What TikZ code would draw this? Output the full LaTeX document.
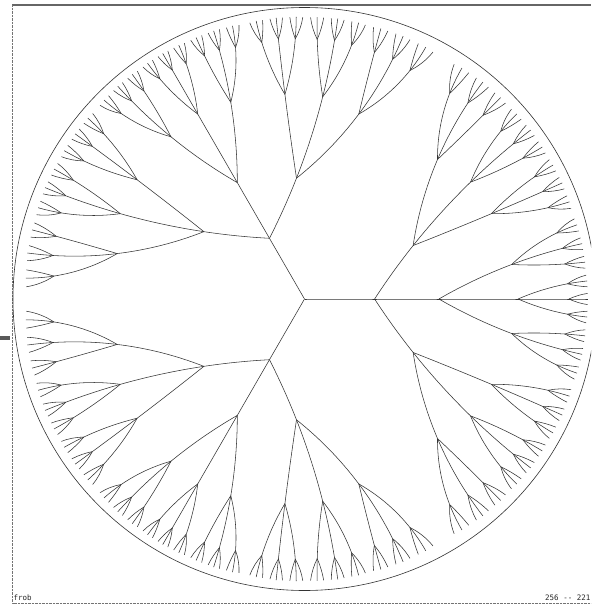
\documentclass[tikz,border=0pt]{standalone}
\usepackage{fontspec}
\setmonofont{DejaVu Sans Mono}
\tikzset{
  hedge/.style={draw=black!80, line width=0.55pt},
  rim/.style={draw=black!80, line width=0.6pt},
  frameline/.style={draw=black!55, line width=0.6pt, dash pattern=on 0.7pt off 0.7pt},
  lbl/.style={anchor=base west, inner sep=0pt, text=black!85, font=\ttfamily\fontsize{7.5}{8}\selectfont}
}
\ExplSyntaxOn
\fp_new:N \l_hyp_s_fp
\fp_new:N \l_hyp_psi_fp
\fp_new:N \l_hyp_wx_fp
\fp_new:N \l_hyp_wy_fp
\fp_new:N \l_hyp_dx_fp
\fp_new:N \l_hyp_dy_fp
\fp_new:N \l_hyp_nx_fp
\fp_new:N \l_hyp_ny_fp
\fp_new:N \l_hyp_dd_fp
\fp_new:N \l_hyp_qx_fp
\fp_new:N \l_hyp_qy_fp
\fp_new:N \l_hyp_del_fp
\fp_new:N \l_hyp_phi_fp
\fp_new:N \l_hyp_len_fp
\fp_new:N \l_hyp_k_fp
\fp_new:N \l_hyp_ax_fp
\fp_new:N \l_hyp_ay_fp
\fp_new:N \l_hyp_bx_fp
\fp_new:N \l_hyp_by_fp
\clist_const:Nn \c_hyp_s_clist {0.2405, 0.248, 0.41, 0.52, 0.56}
\clist_const:Nn \c_hyp_a_clist {120, 57, 30, 23.5, 25}
\fp_const:Nn \c_hyp_cx_fp {304.5}
\fp_const:Nn \c_hyp_cy_fp {299}
\fp_const:Nn \c_hyp_r_fp {291.5}
\int_const:Nn \c_hyp_depth_int {5}
\cs_new:Npn \hyp_px:N #1 { \fp_eval:n { round( \c_hyp_cx_fp + \c_hyp_r_fp * #1 , 3 ) } }
\cs_new:Npn \hyp_py:N #1 { \fp_eval:n { round( \c_hyp_cy_fp + \c_hyp_r_fp * #1 , 3 ) } }
\cs_new_protected:Npn \hyp_node:nnnnn #1#2#3#4#5
  {
    \int_compare:nNnT {#2} < {\c_hyp_depth_int}
      {
        \hyp_child:nnnnnnn {#1}{#2}{#3}{#4}{#5}{0}{1}
        \hyp_child:nnnnnnn {#1}{#2}{#3}{#4}{#5}{ \clist_item:Nn \c_hyp_a_clist {#2+1} }{2}
        \hyp_child:nnnnnnn {#1}{#2}{#3}{#4}{#5}{ -(\clist_item:Nn \c_hyp_a_clist {#2+1}) }{3}
      }
  }
\cs_new_protected:Npn \hyp_child:nnnnnnn #1#2#3#4#5#6#7
  {
    \group_begin:
    \fp_set:Nn \l_hyp_s_fp { \clist_item:Nn \c_hyp_s_clist {#2+1} }
    \fp_set:Nn \l_hyp_psi_fp { (#5) + (#6) }
    \fp_set:Nn \l_hyp_wx_fp { \l_hyp_s_fp * cosd(\l_hyp_psi_fp) }
    \fp_set:Nn \l_hyp_wy_fp { \l_hyp_s_fp * sind(\l_hyp_psi_fp) }
    \fp_set:Nn \l_hyp_dx_fp { 1 + (#3) * \l_hyp_wx_fp + (#4) * \l_hyp_wy_fp }
    \fp_set:Nn \l_hyp_dy_fp { (#3) * \l_hyp_wy_fp - (#4) * \l_hyp_wx_fp }
    \fp_set:Nn \l_hyp_nx_fp { \l_hyp_wx_fp + (#3) }
    \fp_set:Nn \l_hyp_ny_fp { \l_hyp_wy_fp + (#4) }
    \fp_set:Nn \l_hyp_dd_fp { \l_hyp_dx_fp * \l_hyp_dx_fp + \l_hyp_dy_fp * \l_hyp_dy_fp }
    \fp_set:Nn \l_hyp_qx_fp { ( \l_hyp_nx_fp * \l_hyp_dx_fp + \l_hyp_ny_fp * \l_hyp_dy_fp ) / \l_hyp_dd_fp }
    \fp_set:Nn \l_hyp_qy_fp { ( \l_hyp_ny_fp * \l_hyp_dx_fp - \l_hyp_nx_fp * \l_hyp_dy_fp ) / \l_hyp_dd_fp }
    \fp_set:Nn \l_hyp_del_fp { -2 * atand( \l_hyp_dy_fp , \l_hyp_dx_fp ) }
    \fp_set:Nn \l_hyp_phi_fp { \l_hyp_psi_fp + \l_hyp_del_fp }
    \fp_set:Nn \l_hyp_len_fp { sqrt( (\l_hyp_qx_fp - (#3)) * (\l_hyp_qx_fp - (#3)) + (\l_hyp_qy_fp - (#4)) * (\l_hyp_qy_fp - (#4)) ) }
    \fp_set:Nn \l_hyp_k_fp { \l_hyp_len_fp / ( 3 * cosd( \l_hyp_del_fp / 4 ) * cosd( \l_hyp_del_fp / 4 ) ) }
    \fp_set:Nn \l_hyp_ax_fp { (#3) + \l_hyp_k_fp * cosd(\l_hyp_psi_fp) }
    \fp_set:Nn \l_hyp_ay_fp { (#4) + \l_hyp_k_fp * sind(\l_hyp_psi_fp) }
    \fp_set:Nn \l_hyp_bx_fp { \l_hyp_qx_fp - \l_hyp_k_fp * cosd(\l_hyp_phi_fp) }
    \fp_set:Nn \l_hyp_by_fp { \l_hyp_qy_fp - \l_hyp_k_fp * sind(\l_hyp_phi_fp) }
    \use:x
      {
        \exp_not:N \coordinate ~ (#1-#7) ~ at ~ ( \hyp_px:N \l_hyp_qx_fp , \hyp_py:N \l_hyp_qy_fp ) ;
        \exp_not:N \draw [hedge] ~ (#1) ~ .. ~ controls ~ ( \hyp_px:N \l_hyp_ax_fp , \hyp_py:N \l_hyp_ay_fp ) ~ and ~ ( \hyp_px:N \l_hyp_bx_fp , \hyp_py:N \l_hyp_by_fp ) ~ .. ~ (#1-#7) ;
        \exp_not:N \hyp_node:nnnnn {#1-#7} { \int_eval:n {#2+1} } { \fp_use:N \l_hyp_qx_fp } { \fp_use:N \l_hyp_qy_fp } { \fp_use:N \l_hyp_phi_fp }
      }
    \group_end:
  }
\cs_new_protected:Npn \HypTree { \hyp_node:nnnnn {n}{0}{0}{0}{0} }
\ExplSyntaxOff
\begin{document}
\begin{tikzpicture}[x=1pt,y=-1pt]
  \useasboundingbox (0,0) rectangle (591,604);
  \fill[white] (0,0) rectangle (591,604);
  \clip (0,0) rectangle (591,604);
  % frame
  \draw[black!60, line width=1.1pt] (12,5) -- (591,5);
  \draw[frameline] (12.5,5) -- (12.5,603) -- (591,603);
  \fill[black!65] (0,336) rectangle (10,340);
  % disk
  \coordinate (n) at (304.5,299);
  \draw[rim] (n) circle[radius=291.5pt];
  % tree
  \HypTree
  % labels
  \node[lbl] (frob) at (13.5,600) {frob};
  \node[lbl] (range) at (545,600) {256 -{}- 221};
\end{tikzpicture}
\end{document}
